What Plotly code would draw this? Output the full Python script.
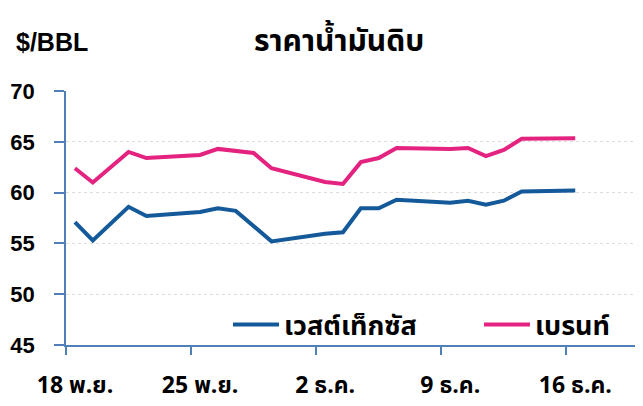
import plotly.graph_objects as go
import pandas as pd

# WTI (เวสต์เท็กซัส) - no settlement on Thanksgiving 28 Nov
wti_dates = ["2019-11-18", "2019-11-19", "2019-11-21", "2019-11-22", "2019-11-25",
             "2019-11-26", "2019-11-27", "2019-11-29", "2019-12-02", "2019-12-03",
             "2019-12-04", "2019-12-05", "2019-12-06", "2019-12-09", "2019-12-10",
             "2019-12-11", "2019-12-12", "2019-12-13", "2019-12-16"]
wti_values = [57.1, 55.3, 58.6, 57.7, 58.1,
              58.45, 58.2, 55.2, 55.95, 56.1,
              58.45, 58.45, 59.3, 59.0, 59.2,
              58.8, 59.2, 60.1, 60.2]

# Brent (เบรนท์)
brent_dates = ["2019-11-18", "2019-11-19", "2019-11-21", "2019-11-22", "2019-11-25",
               "2019-11-26", "2019-11-28", "2019-11-29", "2019-12-02", "2019-12-03",
               "2019-12-04", "2019-12-05", "2019-12-06", "2019-12-09", "2019-12-10",
               "2019-12-11", "2019-12-12", "2019-12-13", "2019-12-16"]
brent_values = [62.4, 61.0, 64.0, 63.4, 63.7,
                64.3, 63.9, 62.4, 61.05, 60.85,
                63.0, 63.4, 64.4, 64.3, 64.4,
                63.6, 64.2, 65.3, 65.35]

tick_dates = ["2019-11-18", "2019-11-25", "2019-12-02", "2019-12-09", "2019-12-16"]
tick_labels = ["18 พ.ย.", "25 พ.ย.", "2 ธ.ค.", "9 ธ.ค.", "16 ธ.ค."]

FONT = "Noto Sans Thai, Tahoma, Liberation Sans, Arial, sans-serif"
LAT = "Liberation Sans, Arial, sans-serif"
AXIS_COLOR = "#4f7fb8"

OFF = 8  # page body margin
ML, MR, MT, MB = 58, 8, 83, 69
FW, FH = 643, 406
W = FW - ML - MR
H = FH - MT - MB


def px_x(x):
    return (x - OFF - ML) / W


def px_y(y):
    return (FH - MB - (y - OFF)) / H


fig = go.Figure()
fig.add_trace(go.Scatter(x=wti_dates, y=wti_values, mode="lines", name="เวสต์เท็กซัส",
                         line=dict(color="#14599a", width=4), legend="legend"))
fig.add_trace(go.Scatter(x=brent_dates, y=brent_values, mode="lines", name="เบรนท์",
                         line=dict(color="#e3237f", width=4), legend="legend2"))

# ticks sit on day boundaries (half a day before each labelled date)
tickvals = [(pd.Timestamp(d) - pd.Timedelta(hours=12)).strftime("%Y-%m-%d %H:%M") for d in tick_dates]

legend_style = dict(orientation="h", xanchor="left", yanchor="middle",
                    bgcolor="rgba(0,0,0,0)", itemwidth=46,
                    font=dict(size=27, family=FONT, color="black", weight="bold"))

fig.update_layout(
    width=FW, height=FH,
    margin=dict(l=ML, r=MR, t=MT, b=MB, autoexpand=False),
    paper_bgcolor="white", plot_bgcolor="white",
    font=dict(family=FONT, color="black", size=20),
    showlegend=True,
    legend=dict(x=px_x(228), y=px_y(325), **legend_style),
    legend2=dict(x=px_x(479), y=px_y(325), **legend_style),
    annotations=[
        dict(text="<b>$/BBL</b>", x=px_x(14), y=px_y(42), xref="paper", yref="paper",
             showarrow=False, xanchor="left", yanchor="middle",
             font=dict(size=25, family=LAT)),
        dict(text="<b>ราคาน้ำมันดิบ</b>", x=px_x(252), y=px_y(42), xref="paper", yref="paper",
             showarrow=False, xanchor="left", yanchor="middle",
             font=dict(size=30, family=FONT)),
    ],
)

fig.update_xaxes(
    type="date", range=["2019-11-17 12:00", "2019-12-19 19:00"],
    tickmode="array", tickvals=tickvals, ticktext=tick_labels,
    ticks="outside", ticklen=8, tickcolor=AXIS_COLOR, tickwidth=1.5,
    ticklabelshift=9, ticklabelstandoff=11, automargin=False,
    showline=True, linecolor=AXIS_COLOR, linewidth=1.5,
    showgrid=False, zeroline=False,
    tickfont=dict(size=23, family=FONT, weight="bold"),
)
fig.update_yaxes(
    range=[45, 70], tickmode="array", tickvals=[45, 50, 55, 60, 65, 70],
    ticks="outside", ticklen=10, tickcolor=AXIS_COLOR, tickwidth=1.5,
    ticklabelstandoff=15, automargin=False,
    showline=True, linecolor=AXIS_COLOR, linewidth=1.5,
    showgrid=True, gridcolor="#dcdcdc", griddash="dot", gridwidth=1,
    zeroline=False,
    tickfont=dict(size=22, family=LAT, weight="bold"),
)

fig.write_html("out.html")
